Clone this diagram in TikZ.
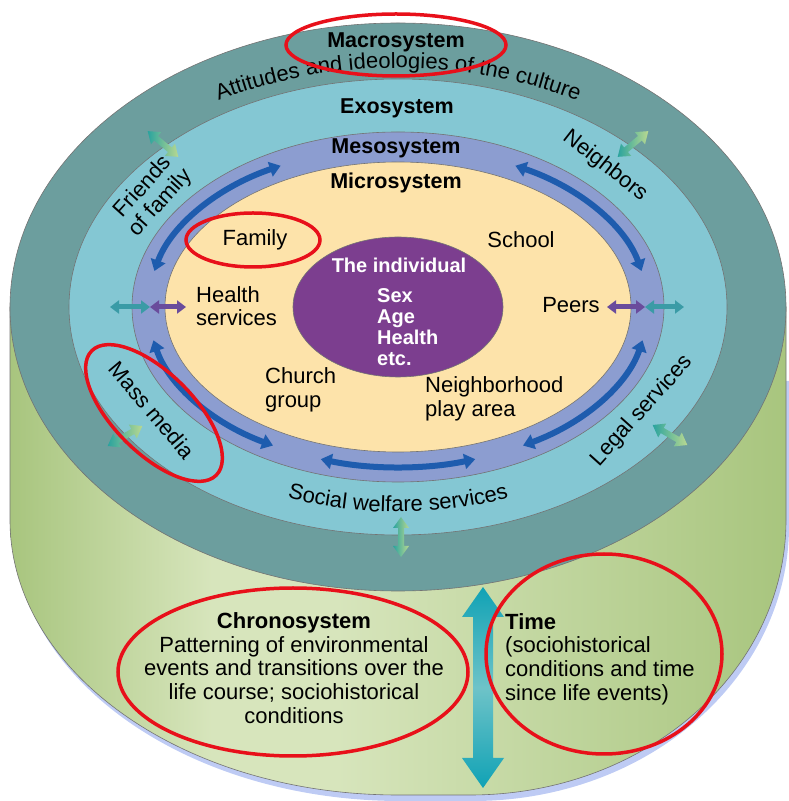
\documentclass[tikz,border=0pt]{standalone}
\usepackage{fontspec}
\setmainfont{Liberation Sans}
\usetikzlibrary{arrows.meta,decorations.text}
\definecolor{macroteal}{RGB}{108,158,158}
\definecolor{exoblue}{RGB}{132,199,211}
\definecolor{mesoblue}{RGB}{140,157,208}
\definecolor{microcream}{RGB}{253,227,170}
\definecolor{indpurple}{RGB}{124,62,143}
\definecolor{cylgreen}{RGB}{168,197,126}
\definecolor{cyllight}{RGB}{215,229,188}
\definecolor{shadowblue}{RGB}{110,140,230}
\definecolor{arrowblue}{RGB}{30,92,174}
\definecolor{timeteal}{RGB}{16,162,181}
\definecolor{timelight}{RGB}{110,195,200}
\definecolor{sideteal}{RGB}{58,155,166}
\definecolor{sidepurple}{RGB}{106,76,156}
\definecolor{smallteal}{RGB}{42,163,158}
\definecolor{smallgreen}{RGB}{185,217,145}
\definecolor{markred}{RGB}{232,16,26}
\pgfdeclarehorizontalshading{cylshade}{100bp}{color(0bp)=(cylgreen); color(25bp)=(cylgreen); color(38bp)=(cyllight); color(46bp)=(cyllight); color(75bp)=(cylgreen); color(100bp)=(cylgreen)}
\begin{document}
\begin{tikzpicture}[x=1pt,y=1pt]
	\tikzstyle{ring}=[draw=black!55, line width=0.6pt]
	\tikzstyle{lbl}=[inner sep=0pt, font=\fontsize{22}{23.6}\selectfont]
	\tikzstyle{lblb}=[inner sep=0pt, font=\fontsize{21.5}{23.6}\selectfont\bfseries]
	\tikzstyle{mesoarrow}=[arrowblue, line width=6pt, {Triangle[width=15pt,length=11pt]}-{Triangle[width=15pt,length=11pt]}]
	\tikzstyle{sidearrow}=[line width=5pt, {Triangle[width=13pt,length=9pt]}-{Triangle[width=13pt,length=9pt]}]
	\tikzstyle{redmark}=[draw=markred, line width=3.5pt]
	\useasboundingbox (0,0) rectangle (789,801);
	\coordinate (ctr) at (398,494);
	% cylinder
	\fill[shadowblue, opacity=.45] (13,420) -- (13,275) arc[start angle=180, end angle=270, x radius=388, y radius=275] -- (473,0) arc[start angle=270, end angle=360, x radius=316, y radius=275] -- (789,420) -- cycle;
	\shadedraw[shading=cylshade, ring] (10,494) -- (10,281) arc[start angle=180, end angle=270, x radius=388, y radius=275] -- (470,6) arc[start angle=270, end angle=360, x radius=316, y radius=275] -- (786,494) -- cycle;
	% rings
	\filldraw[ring, fill=macroteal] (ctr) ellipse[x radius=388, y radius=284];
	\filldraw[ring, fill=exoblue] (ctr) ellipse[x radius=329, y radius=228];
	\filldraw[ring, fill=mesoblue] (ctr) ellipse[x radius=266, y radius=175];
	\filldraw[ring, fill=microcream] (ctr) ellipse[x radius=233, y radius=145];
	\filldraw[ring, fill=indpurple] (ctr) ellipse[x radius=105, y radius=70];
	% arrows in the mesosystem
	\foreach \a/\b in {118/167, 13/62, 192/240, 252/288, 300/348}
		\draw[mesoarrow] ([shift={(\a:250 and 160)}]ctr) arc[start angle=\a, end angle=\b, x radius=250, y radius=160];
	\draw[sidearrow, sideteal] (110,494) -- (150,494);
	\draw[sidearrow, sidepurple] (150,494) -- (186,494);
	\draw[sidearrow, sidepurple] (607,494) -- (645,494);
	\draw[sidearrow, sideteal] (645,494) -- (684,494);
	% small arrows across exo / macro
	\foreach \x/\y/\a in {163/657/-40, 633/657/40, 125/365/30, 670/366/-30, 401/264/90}
		\shade[left color=smallteal, right color=smallgreen, shift={(\x,\y)}, rotate=\a] (-20,0) -- (-9,8) -- (-9,3) -- (9,3) -- (9,8) -- (20,0) -- (9,-8) -- (9,-3) -- (-9,-3) -- (-9,-8) -- cycle;
	% time arrow
	\shade[top color=timeteal, bottom color=timeteal, middle color=timelight] (483,214) -- (504,184) -- (493,184) -- (493,43) -- (504,43) -- (483,13) -- (462,43) -- (473,43) -- (473,184) -- (462,184) -- cycle;
	% labels
	\node[lblb] (macro) at (396,759) {Macrosystem};
	\path[decorate, decoration={text along path, text align=center, text={|\fontsize{22}{24}\selectfont|Attitudes and ideologies of the culture}}] ([shift={(150:355 and 239)}]ctr) arc[start angle=150, end angle=30, x radius=355, y radius=239];
	\node[lblb] (exo) at (397,693) {Exosystem};
	\node[lblb] (meso) at (396,653) {Mesosystem};
	\node[lblb] (micro) at (396,618) {Microsystem};
	\node[lbl] (family) at (255,561) {Family};
	\node[lbl] (school) at (521,561) {School};
	\node[inner sep=0pt, white, font=\fontsize{20}{21}\selectfont\bfseries] (indiv) at (399,536) {The individual};
	\node[inner sep=0pt, white, font=\fontsize{20}{21}\selectfont\bfseries, anchor=west, align=left] (traits) at (377,474) {Sex\\Age\\Health\\etc.};
	\node[lbl, anchor=west, align=left] (health) at (196,495) {Health\\services};
	\node[lbl] (peers) at (571,496) {Peers};
	\node[lbl, anchor=west, align=left] (church) at (265,411) {Church\\group};
	\node[lbl, anchor=west, align=left] (nbhd) at (425,402) {Neighborhood\\play area};
	\node[lbl, rotate=48, align=center] (friends) at (152,606) {Friends\\of family};
	\node[lbl, rotate=-38] (neigh) at (605,635) {Neighbors};
	\node[lbl, rotate=-50] (media) at (152,391) {Mass media};
	\node[lbl, rotate=48] (legal) at (642,390) {Legal services};
	\path[decorate, decoration={text along path, text align=center, text={|\fontsize{22}{24}\selectfont|Social welfare services}}] ([shift={(235:300 and 205)}]ctr) arc[start angle=235, end angle=305, x radius=300, y radius=205];
	\node[lbl, align=center] (chrono) at (294,133) {\textbf{Chronosystem}\\Patterning of environmental\\events and transitions over the\\life course; sociohistorical\\conditions};
	\node[lbl, anchor=west, align=left] (time) at (505,142) {\textbf{Time}\\(sociohistorical\\conditions and time\\since life events)};
	% red marks
	\draw[redmark] (396,756) ellipse[x radius=110, y radius=31];
	\draw[redmark] (253,561) ellipse[x radius=67, y radius=27];
	\draw[redmark, rotate around={-45:(154,388)}] (154,388) ellipse[x radius=88, y radius=40];
	\draw[redmark] (293,129) ellipse[x radius=175, y radius=84];
	\draw[redmark] (604,147) ellipse[x radius=118, y radius=100];
\end{tikzpicture}
\end{document}
